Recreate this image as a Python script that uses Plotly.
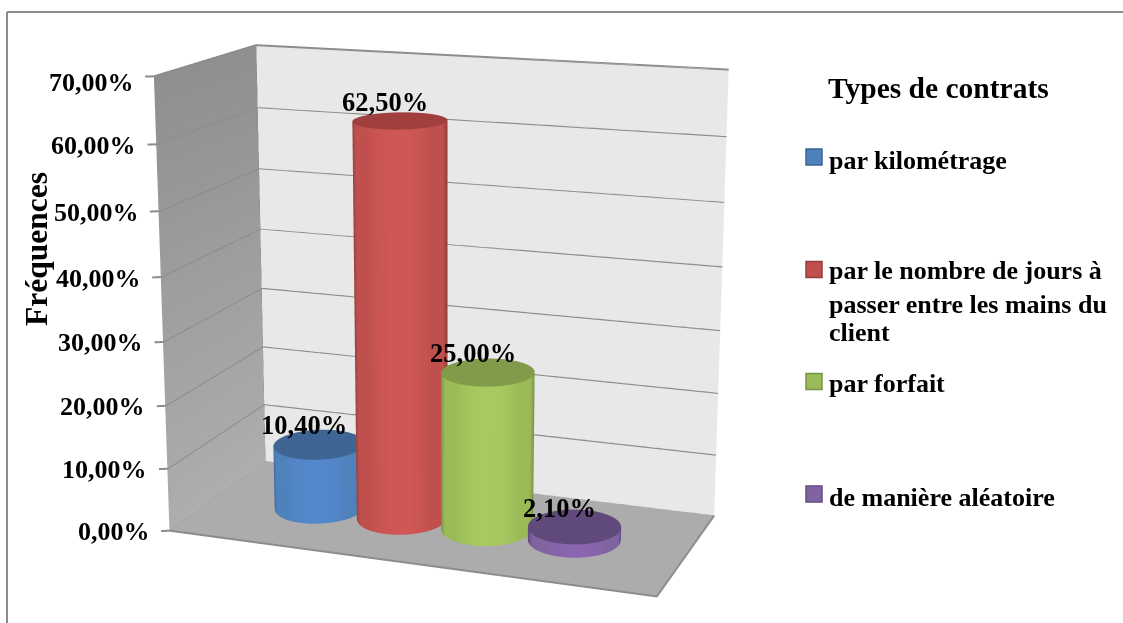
import numpy as np
import plotly.graph_objects as go

labels = [["par kilométrage"], ["par le nombre de jours à", "passer entre les mains du", "client"], ["par forfait"], ["de manière aléatoire"]]
values = [10.4, 62.5, 25.0, 2.1]
value_text = ["10,40%", "62,50%", "25,00%", "2,10%"]
ticks = [0, 10, 20, 30, 40, 50, 60, 70]
tick_text = ["0,00%", "10,00%", "20,00%", "30,00%", "40,00%", "50,00%", "60,00%", "70,00%"]

W = 1123
# Plotly's 3D field of view is fixed, so a taller scene (partly off-page) gives the long-lens look of the original.
FH, OFF = 1800, 600
ex, ey, ez = 1.5574, -4.2454, 1.1816
cx, cy, cz = 0.0091, 0.0045, 0.0087
ax, ay = 1.0977, 0.5009
ux, uy = -0.0006, -0.0002

xr = [-0.25, 5.25]; yr = [0, 1]; zr = [0, 70]
xpad, ypad, zpad = 0.2, 0.05, 1.0
fig = go.Figure()
nolight = dict(ambient=1, diffuse=0, specular=0, fresnel=0, roughness=1)

def quad(xs, ys, zs, colors):
    fig.add_mesh3d(x=xs, y=ys, z=zs, i=[0, 0], j=[1, 2], k=[2, 3], vertexcolor=colors,
                   lighting=nolight, hoverinfo="skip", flatshading=False)

x0, x1 = xr
top_z = zr[1]
quad([x0, x1, x1, x0], [1, 1, 1, 1], [0, 0, top_z, top_z], ["#E8E8E8"] * 4)
quad([x0, x0, x0, x0], [0, 1, 1, 0], [0, 0, top_z, top_z], ["#AEAEAE", "#AEAEAE", "#8F8F8F", "#8F8F8F"])
quad([x0, x1, x1, x0], [0, 0, 1, 1], [0, 0, 0, 0], ["#ACACAC"] * 4)

gx, gy, gz = [], [], []
for t in ticks:
    gx += [x0 - 0.08, x0, x0, x1, None]; gy += [-0.017, 0, 1, 1, None]; gz += [t, t, t, t, None]
gx += [x0, x1, x1, None, x0, x0, None]; gy += [0, 0, 1, None, 1, 1, None]; gz += [0, 0, 0, None, 0, top_z, None]
fig.add_scatter3d(x=gx, y=gy, z=gz, mode="lines", line=dict(color="#8C8C8C", width=4),
                  hoverinfo="skip", showlegend=False)

palette = [("#4F81BD", "#5488CC", "#35587F", "#3E6594"),
           ("#C0504D", "#D05755", "#7E3432", "#A03F3D"),
           ("#9BBB59", "#A6CA60", "#6A8039", "#809B49"),
           ("#8064A2", "#8A66B0", "#563F70", "#604A7C")]
R = 0.5
ry = 1.08 * R / (xr[1] - xr[0]) * ax / ay
yc = 0.5
th = np.linspace(0, 2 * np.pi, 145)
view = np.arctan2(ey, ex)
for i, v in enumerate(values):
    base, hi, lo, top = palette[i]
    xc = i + 1
    tt, zz = np.meshgrid(th, [0, v])
    X = xc + R * np.cos(tt); Y = yc + ry * np.sin(tt)
    fig.add_surface(x=X, y=Y, z=zz, surfacecolor=np.cos(tt - view), cmin=-1, cmax=1,
                    colorscale=[[0, lo], [0.5, lo], [0.72, base], [0.88, base], [1, hi]],
                    showscale=False, lighting=nolight, hoverinfo="skip")
    rr, tt2 = np.meshgrid([0, 1], th)
    X2 = xc + R * rr * np.cos(tt2); Y2 = yc + ry * rr * np.sin(tt2)
    fig.add_surface(x=X2, y=Y2, z=np.full_like(X2, v), surfacecolor=np.zeros_like(X2), cmin=0, cmax=1,
                    colorscale=[[0, top], [1, top]], showscale=False, lighting=nolight, hoverinfo="skip")

FONT = "Liberation Serif"
ann3d = []
for t, s in zip(ticks, tick_text):
    ann3d.append(dict(x=x0, y=0, z=t, text=f"<b>{s}</b>", showarrow=False, xanchor="right", xshift=-18,
                      yshift=-6 if t == 70 else -1, font=dict(family=FONT, size=26, color="black")))
for i, (v, s) in enumerate(zip(values, value_text)):
    ann3d.append(dict(x=i + 1, y=yc, z=v, text=f"<b>{s}</b>", showarrow=False, xshift=-15, yshift=19,
                      font=dict(family=FONT, size=26.5, color="black")))

fig.update_layout(
    width=W, height=FH, margin=dict(l=0, r=0, t=0, b=0), showlegend=False, paper_bgcolor="white",
    scene=dict(domain=dict(x=[0, 0.8], y=[0, 1]),
               xaxis=dict(visible=False, range=[xr[0] - xpad, xr[1] + xpad]),
               yaxis=dict(visible=False, range=[yr[0] - ypad, yr[1] + ypad]),
               zaxis=dict(visible=False, range=[zr[0] - zpad, zr[1] + zpad]),
               annotations=ann3d, aspectmode="manual",
               aspectratio=dict(x=ax * (xr[1] - xr[0] + 2 * xpad) / (xr[1] - xr[0]), y=ay * (1 + 2 * ypad),
                                z=(zr[1] + 2 * zpad) / zr[1]),
               camera=dict(eye=dict(x=ex, y=ey, z=ez), center=dict(x=cx, y=cy, z=cz), up=dict(x=ux, y=uy, z=1))))

def PX(x): return x / W
def PY(y): return 1 - (y + OFF) / FH
def ann(x, y, s, size, **kw):
    return dict(xref="paper", yref="paper", x=PX(x), y=PY(y), yanchor="middle", text=f"<b>{s}</b>",
                showarrow=False, font=dict(family=FONT, size=size, color="black"), **kw)

shapes = [dict(type="line", xref="paper", yref="paper", x0=PX(7), x1=PX(1123), y0=PY(12), y1=PY(12), line=dict(color="#8C8C8C", width=2)),
          dict(type="line", xref="paper", yref="paper", x0=PX(7), x1=PX(7), y0=PY(12), y1=PY(623), line=dict(color="#8C8C8C", width=2))]
anns = [ann(36, 249, "Fréquences", 31.5, textangle=-90, xanchor="center"),
        ann(826, 88, "Types de contrats", 29.5, xanchor="left")]
key_y = [157, 269.5, 381.5, 494]
text_y = [[160], [271, 304, 332], [384], [497]]
edge = ["#3A6494", "#953D3A", "#799245", "#634D80"]
for i, l in enumerate(labels):
    y = key_y[i]
    shapes.append(dict(type="rect", xref="paper", yref="paper", x0=PX(806), x1=PX(822), y0=PY(y - 8), y1=PY(y + 8),
                       fillcolor=palette[i][0], line=dict(color=edge[i], width=1.5)))
    for s, ty in zip(l, text_y[i]):
        anns.append(ann(827, ty, s, 26, xanchor="left"))
fig.update_layout(shapes=shapes, annotations=anns)
fig.write_html("out.html", config=dict(displayModeBar=False),
               post_script=f"document.documentElement.style.overflow='hidden';document.body.style.overflow='hidden';document.body.style.margin='0';document.body.style.height='623px';document.querySelector('.plotly-graph-div').style.marginTop='-{OFF}px';")
